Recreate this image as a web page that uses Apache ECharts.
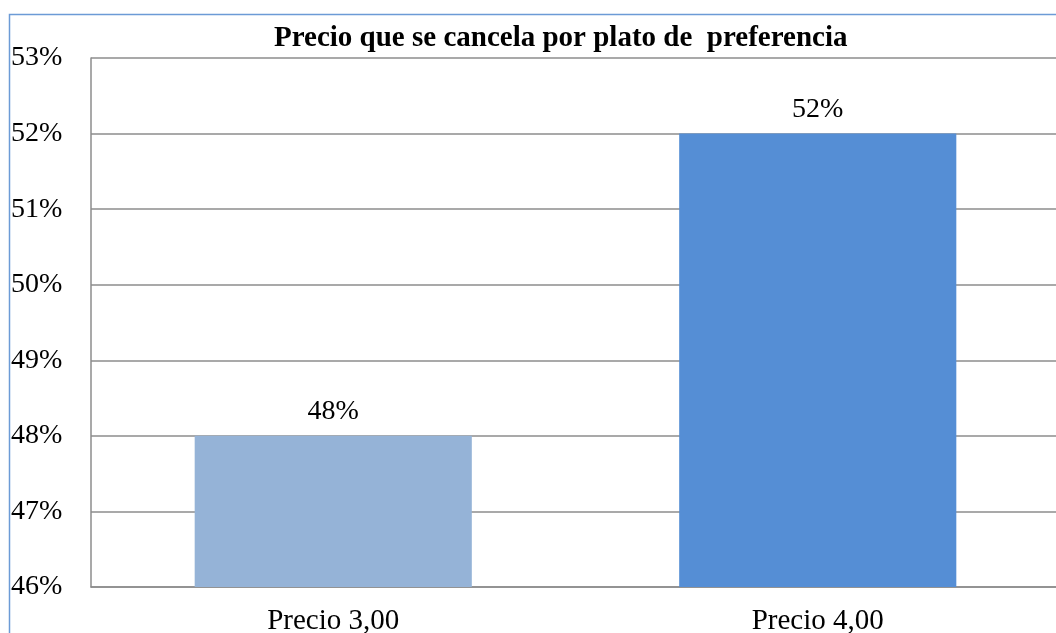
<!DOCTYPE html>
<html>
<head>
<meta charset="utf-8">
<style>
  html, body { margin: 0; padding: 0; background: #fff; }
  #chart { width: 1056px; height: 633px; }
</style>
<script src="https://cdn.jsdelivr.net/npm/echarts@6/dist/echarts.min.js"></script>
</head>
<body>
<div id="chart"></div>
<script>
// Chart data
var categories = ['Precio 3,00', 'Precio 4,00'];
var percentValues = [48, 52];
var barColors = ['#95b3d7', '#558ed5'];
var yMin = 46, yMax = 53, yStep = 1;

var chart = echarts.init(document.getElementById('chart'));

var serif = '"Liberation Serif", "Times New Roman", serif';

var option = {
    animation: false,
    textStyle: { fontFamily: serif },

    // Outer frame (cropped at right / bottom)
    graphic: [{
        type: 'rect',
        left: 7, top: 12,
        shape: { width: 1200, height: 800 },
        style: { fill: 'none', stroke: '#6c9bd6', lineWidth: 1.5 },
        silent: true
    }],

    title: {
        text: 'Precio que se cancela por plato de  preferencia',
        left: 274,
        top: 24,
        padding: 0,
        textStyle: {
            fontFamily: serif,
            fontSize: 29,
            fontWeight: 'bold',
            color: '#000'
        }
    },

    grid: {
        left: 91, right: -4, top: 58, bottom: 46,
        containLabel: false,
        outerBoundsMode: 'none'
    },

    xAxis: {
        type: 'category',
        data: categories,
        axisLine: { lineStyle: { color: '#8c8c8c', width: 1.5 } },
        axisTick: { show: false },
        axisLabel: { fontFamily: serif, fontSize: 29, color: '#000', margin: 20 }
    },

    yAxis: {
        type: 'value',
        min: yMin,
        max: yMax,
        interval: yStep,
        axisLine: { show: true, lineStyle: { color: '#8c8c8c', width: 1.5 } },
        axisTick: { show: false },
        splitLine: { lineStyle: { color: '#8c8c8c', width: 1.5 } },
        axisLabel: {
            fontFamily: serif, fontSize: 28, color: '#000',
            align: 'left', margin: 80,
            formatter: '{value}%'
        }
    },

    series: [{
        type: 'bar',
        barWidth: '57.2%',
        data: percentValues.map(function (v, i) {
            return { value: v, itemStyle: { color: barColors[i] } };
        }),
        label: {
            show: true,
            position: 'top',
            distance: 10,
            fontFamily: serif,
            fontSize: 28,
            color: '#000',
            formatter: '{c}%'
        }
    }]
};

chart.setOption(option);
</script>
</body>
</html>
